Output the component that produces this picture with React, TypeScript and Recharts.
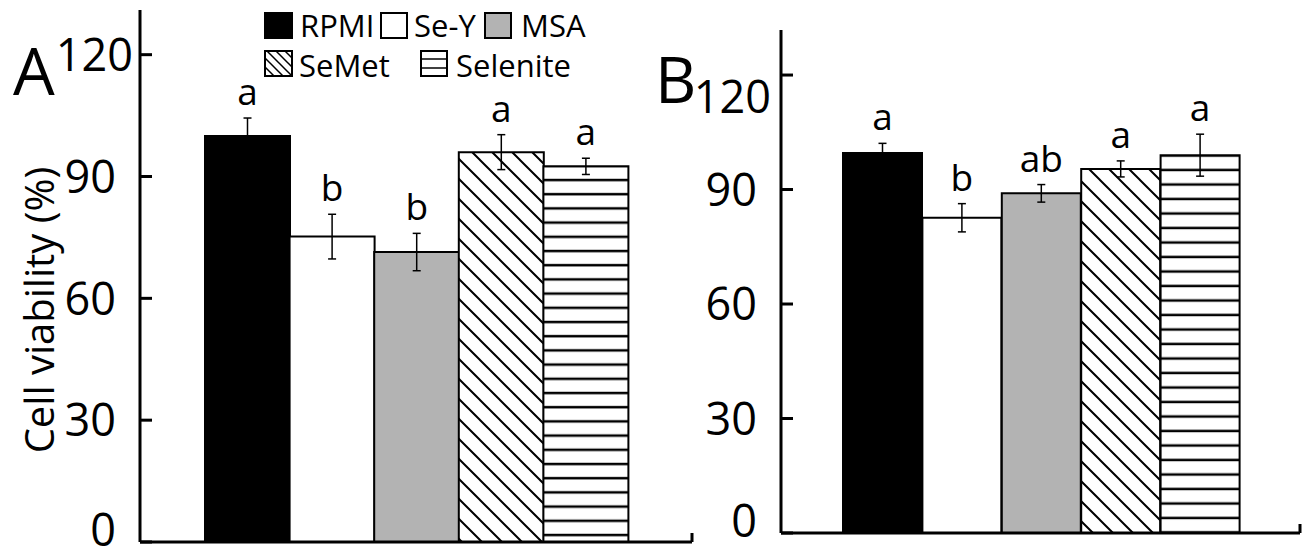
import React from "react";
import {
  Bar,
  BarChart,
  Cell,
  ErrorBar,
  LabelList,
  XAxis,
  YAxis,
} from "recharts";

// values (mean ± error, % of control)
const treatments = ["RPMI", "Se-Y", "MSA", "SeMet", "Selenite"];
const viabilityA = [100.0, 75.2, 71.4, 96.0, 92.5];
const errorA = [4.4, 5.5, 4.6, 4.3, 2.0];
const lettersA = ["a", "b", "b", "a", "a"];
const viabilityB = [99.6, 82.6, 89.0, 95.4, 99.0];
const errorB = [2.5, 3.7, 2.3, 2.1, 5.5];
const lettersB = ["a", "b", "ab", "a", "a"];
const yTicks = [0, 30, 60, 90, 120];

const FONT = "'Open Sans', 'DejaVu Sans', sans-serif";
const TICK_SIZE = 12;
const TICK_MARGIN = 36;

type Row = { name: string; v: number; err: number; letter: string };

const buildRows = (vals: number[], errs: number[], letters: string[]): Row[] =>
  treatments.map((name, i) => ({ name, v: vals[i], err: errs[i], letter: letters[i] }));

const fillsFor = (id: string) => [
  "#000000",
  "#ffffff",
  "#b3b3b3",
  `url(#hatch-${id})`,
  `url(#stripe-${id})`,
];

const makeLetter = (rows: Row[]) => (props: any) => {
  const { x, y, width, height, index } = props;
  const row = rows[index];
  const pxPerUnit = Number(height) / row.v;
  const top = Number(y) - row.err * pxPerUnit;
  return (
    <text
      x={Number(x) + Number(width) / 2}
      y={top - 13}
      textAnchor="middle"
      fontSize={37}
      fontFamily={FONT}
      fill="#000"
    >
      {row.letter}
    </text>
  );
};

// the original nudges a couple of tick labels (120 beside the panel letter, 0 above the axis)
const makeTick = (shift: Record<number, [number, number]>) => (props: any) => {
  const { x, y, payload } = props;
  const [dx, dy] = shift[payload.value] || [0, 0];
  const axisX = Number(x) + TICK_MARGIN - TICK_SIZE;
  return (
    <g>
      <line
        x1={axisX}
        x2={axisX + TICK_SIZE}
        y1={y}
        y2={y}
        stroke="#000"
        strokeWidth={3}
      />
      <text
        x={Number(x) + dx}
        y={Number(y) + dy}
        dy="0.36em"
        textAnchor="end"
        fontSize={45}
        fontFamily={FONT}
        fill="#000"
      >
        {payload.value}
      </text>
    </g>
  );
};

type PanelProps = {
  id: string;
  rows: Row[];
  left: number;
  width: number;
  margin: { top: number; right: number; bottom: number; left: number };
  padding: { left: number; right: number };
  yMax: number;
  plotHeight: number;
  stripeStep: number;
  stripeOffset: number;
  shift: Record<number, [number, number]>;
};

const Panel = ({
  id,
  rows,
  left,
  width,
  margin,
  padding,
  yMax,
  plotHeight,
  stripeStep,
  stripeOffset,
  shift,
}: PanelProps) => {
  const fills = fillsFor(id);
  return (
    <div style={{ position: "absolute", left, top: 0 }}>
      <BarChart
        width={width}
        height={550}
        data={rows}
        margin={margin}
        barCategoryGap={0}
      >
        <defs>
          <pattern id={`hatch-${id}`} patternUnits="userSpaceOnUse" width={20} height={20}>
            <rect width={20} height={20} fill="#fff" />
            <path
              d="M0,0 L20,20 M-10,10 L10,30 M10,-10 L30,10"
              stroke="#000"
              strokeWidth={2}
            />
          </pattern>
          <pattern
            id={`stripe-${id}`}
            patternUnits="userSpaceOnUse"
            width={10}
            height={stripeStep}
          >
            <rect width={10} height={stripeStep} fill="#fff" />
            <line x1={0} x2={10} y1={stripeOffset} y2={stripeOffset} stroke="#000" strokeWidth={2.5} />
          </pattern>
        </defs>
        <XAxis
          dataKey="name"
          tick={false}
          tickLine={false}
          height={1}
          padding={padding}
          axisLine={{ stroke: "#000", strokeWidth: 3 }}
        />
        <YAxis
          domain={[0, yMax]}
          ticks={yTicks}
          interval={0}
          width={1}
          allowDataOverflow
          axisLine={{ stroke: "#000", strokeWidth: 3 }}
          tickLine={false}
          tickSize={-TICK_SIZE}
          tickMargin={TICK_MARGIN}
          tick={makeTick(shift)}
        />
        {/* short upright tick closing the x axis on the right */}
        <YAxis
          yAxisId="edge"
          orientation="right"
          domain={[0, yMax]}
          width={1}
          tick={false}
          tickLine={false}
          axisLine={{
            stroke: "#000",
            strokeWidth: 3,
            strokeDasharray: `0 ${plotHeight - 9} 10 ${plotHeight}`,
          }}
        />
        <Bar dataKey="v" stroke="#000" strokeWidth={2} isAnimationActive={false}>
          {rows.map((r, i) => (
            <Cell key={r.name} fill={fills[i]} />
          ))}
          <ErrorBar dataKey="err" width={4} stroke="#000" strokeWidth={1.5} />
          <LabelList dataKey="letter" content={makeLetter(rows)} />
        </Bar>
      </BarChart>
    </div>
  );
};

const Legend = () => (
  <g fontFamily={FONT} fontSize={31} fill="#000">
    <defs>
      <pattern id="hatch-L" patternUnits="userSpaceOnUse" width={9} height={9}>
        <rect width={9} height={9} fill="#fff" />
        <path d="M0,0 L9,9 M-3,6 L3,12 M6,-3 L12,3" stroke="#000" strokeWidth={1.5} />
      </pattern>
      <pattern id="stripe-L" patternUnits="userSpaceOnUse" width={9} height={9}>
        <rect width={9} height={9} fill="#fff" />
        <line x1={0} x2={9} y1={5} y2={5} stroke="#000" strokeWidth={1.5} />
      </pattern>
    </defs>
    <rect x={265} y={13} width={27} height={25} fill="#000" stroke="#000" strokeWidth={2} />
    <text x={300} y={37}>{treatments[0]}</text>
    <rect x={381} y={13} width={26} height={25} fill="#fff" stroke="#000" strokeWidth={2} />
    <text x={414} y={37}>{treatments[1]}</text>
    <rect x={485} y={13} width={26} height={25} fill="#b3b3b3" stroke="#000" strokeWidth={2} />
    <text x={521} y={37}>{treatments[2]}</text>
    <rect x={265} y={51} width={27} height={25} fill="url(#hatch-L)" stroke="#000" strokeWidth={2} />
    <text x={299} y={77}>{treatments[3]}</text>
    <rect x={421} y={51} width={26} height={25} fill="url(#stripe-L)" stroke="#000" strokeWidth={2} />
    <text x={456} y={77}>{treatments[4]}</text>
  </g>
);

export default function App() {
  const rowsA = buildRows(viabilityA, errorA, lettersA);
  const rowsB = buildRows(viabilityB, errorB, lettersB);
  return (
    <div
      style={{
        position: "absolute",
        left: 0,
        top: 0,
        width: 1307,
        height: 550,
        background: "#fff",
        overflow: "hidden",
      }}
    >
      <Panel
        id="A"
        rows={rowsA}
        left={0}
        width={700}
        margin={{ top: 10, right: 7, bottom: 7, left: 139 }}
        padding={{ left: 65, right: 64 }}
        yMax={131}
        plotHeight={532}
        stripeStep={14.2}
        stripeOffset={9.6}
        shift={{ 120: [17, 0], 0: [0, -12] }}
      />
      <Panel
        id="B"
        rows={rowsB}
        left={640}
        width={667}
        margin={{ top: 30, right: 6, bottom: 16, left: 140 }}
        padding={{ left: 62, right: 60 }}
        yMax={131.8}
        plotHeight={503}
        stripeStep={14.5}
        stripeOffset={10.5}
        shift={{ 120: [14, 22], 0: [0, -12] }}
      />
      <svg
        width={1307}
        height={550}
        style={{ position: "absolute", left: 0, top: 0, pointerEvents: "none" }}
      >
        <text x={13} y={95} fontFamily={FONT} fontSize={66} fill="#000">
          A
        </text>
        <text x={655} y={103} fontFamily={FONT} fontSize={64} fill="#000">
          B
        </text>
        <text
          x={38}
          y={310}
          transform="rotate(-90 38 310)"
          textAnchor="middle"
          dominantBaseline="central"
          fontFamily={FONT}
          fontSize={40}
          fill="#000"
        >
          Cell viability (%)
        </text>
        <Legend />
      </svg>
    </div>
  );
}
